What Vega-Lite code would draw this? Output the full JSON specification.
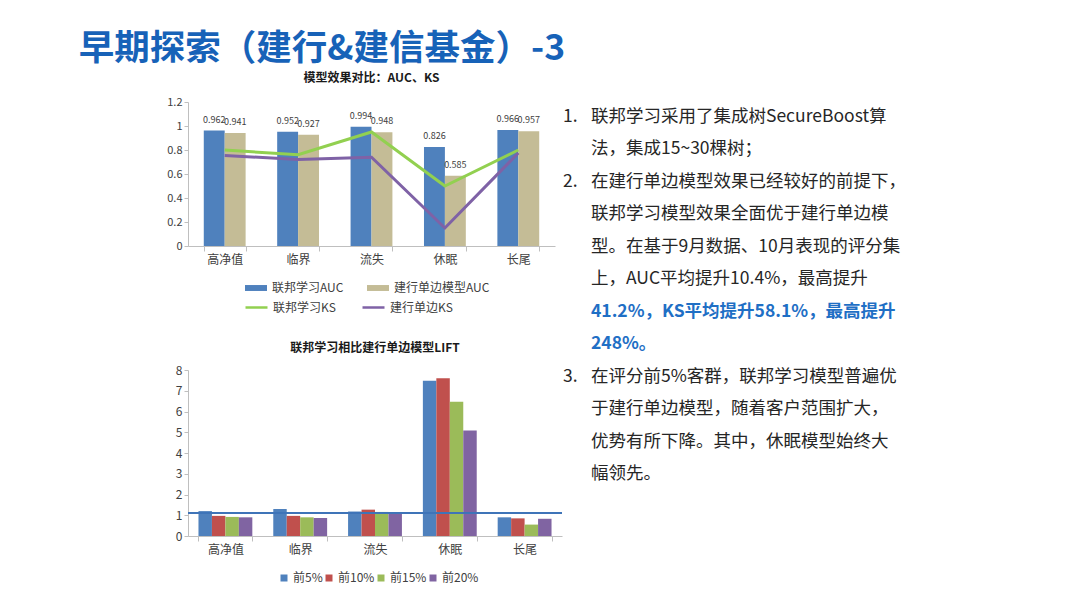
{
  "$schema": "https://vega.github.io/schema/vega-lite/v6.json",
  "background": "white",
  "padding": {"left": 78, "top": 31, "right": 0, "bottom": 0},
  "config": {
    "view": {"stroke": null},
    "font": "Noto Sans CJK SC",
    "axis": {"grid": false, "domainColor": "#bfbfbf", "tickColor": "#bfbfbf", "labelColor": "#404040", "labelFont": "Noto Sans CJK SC", "title": null, "labelOverlap": false},
    "legend": {"labelFont": "Noto Sans CJK SC", "labelColor": "#404040", "title": null}
  },
  "title": {"text": "早期探索（建行&建信基金）-3", "anchor": "start", "dx": -88, "fontSize": 35.5, "fontWeight": "bold", "color": "#1762b8", "font": "Noto Sans CJK SC", "offset": 5},
  "spacing": 0,
  "hconcat": [
    {
      "spacing": 48,
      "resolve": {"scale": {"color": "independent", "xOffset": "independent"}, "legend": {"color": "independent"}},
      "vconcat": [
        {
          "width": 367,
          "height": 144,
          "title": {"text": "模型效果对比：AUC、KS", "fontSize": 12, "fontWeight": "bold", "color": "#1a1a1a", "offset": 11, "font": "Noto Sans CJK SC"},
          "data": {"values": [
            {"cat": "高净值", "metric": "AUC", "series": "联邦学习AUC", "v": 0.962},
            {"cat": "临界", "metric": "AUC", "series": "联邦学习AUC", "v": 0.952},
            {"cat": "流失", "metric": "AUC", "series": "联邦学习AUC", "v": 0.994},
            {"cat": "休眠", "metric": "AUC", "series": "联邦学习AUC", "v": 0.826},
            {"cat": "长尾", "metric": "AUC", "series": "联邦学习AUC", "v": 0.966},
            {"cat": "高净值", "metric": "AUC", "series": "建行单边模型AUC", "v": 0.941},
            {"cat": "临界", "metric": "AUC", "series": "建行单边模型AUC", "v": 0.927},
            {"cat": "流失", "metric": "AUC", "series": "建行单边模型AUC", "v": 0.948},
            {"cat": "休眠", "metric": "AUC", "series": "建行单边模型AUC", "v": 0.585},
            {"cat": "长尾", "metric": "AUC", "series": "建行单边模型AUC", "v": 0.957},
            {"cat": "高净值", "metric": "KS", "series": "联邦学习KS", "v": 0.80},
            {"cat": "临界", "metric": "KS", "series": "联邦学习KS", "v": 0.76},
            {"cat": "流失", "metric": "KS", "series": "联邦学习KS", "v": 0.95},
            {"cat": "休眠", "metric": "KS", "series": "联邦学习KS", "v": 0.50},
            {"cat": "长尾", "metric": "KS", "series": "联邦学习KS", "v": 0.80},
            {"cat": "高净值", "metric": "KS", "series": "建行单边KS", "v": 0.755},
            {"cat": "临界", "metric": "KS", "series": "建行单边KS", "v": 0.72},
            {"cat": "流失", "metric": "KS", "series": "建行单边KS", "v": 0.74},
            {"cat": "休眠", "metric": "KS", "series": "建行单边KS", "v": 0.15},
            {"cat": "长尾", "metric": "KS", "series": "建行单边KS", "v": 0.775}
          ]},
          "encoding": {
            "x": {"field": "cat", "type": "nominal", "sort": ["高净值", "临界", "流失", "休眠", "长尾"], "scale": {"paddingInner": 0.43, "paddingOuter": 0.215}, "axis": {"labelAngle": 0, "tickBand": "extent", "tickSize": 5, "labelPadding": 3, "labelFontSize": 12}},
            "y": {"field": "v", "type": "quantitative", "scale": {"domain": [0, 1.2]}, "axis": {"values": [0, 0.2, 0.4, 0.6, 0.8, 1, 1.2], "format": ".1~f", "tickSize": 4, "labelPadding": 2, "labelFontSize": 11}}
          },
          "layer": [
            {
              "transform": [{"filter": "datum.metric == 'AUC'"}],
              "mark": {"type": "bar"},
              "encoding": {
                "xOffset": {"field": "series", "sort": ["联邦学习AUC", "建行单边模型AUC"]},
                "color": {"field": "series", "scale": {"domain": ["联邦学习AUC", "建行单边模型AUC"], "range": ["#4f81bd", "#c4bc96"]}, "legend": {"orient": "none", "legendX": 56, "legendY": 174, "direction": "horizontal", "columns": 2, "gridAlign": "none", "symbolType": "M-1,-0.27H1V0.27H-1Z", "symbolSize": 484, "labelFontSize": 12, "columnPadding": 22, "labelOffset": 4}}
              }
            },
            {
              "transform": [{"filter": "datum.metric == 'AUC'"}],
              "mark": {"type": "text", "baseline": "bottom", "dy": -6, "fontSize": 9, "color": "#404040"},
              "encoding": {
                "xOffset": {"field": "series", "sort": ["联邦学习AUC", "建行单边模型AUC"]},
                "text": {"field": "v", "type": "quantitative", "format": ".3f"}
              }
            },
            {
              "transform": [{"filter": "datum.metric == 'KS'"}],
              "mark": {"type": "line", "strokeWidth": 3},
              "encoding": {
                "stroke": {"field": "series", "scale": {"domain": ["联邦学习KS", "建行单边KS"], "range": ["#92d050", "#7f62a6"]}, "legend": {"orient": "none", "legendX": 56, "legendY": 193, "direction": "horizontal", "columns": 2, "gridAlign": "none", "symbolType": "stroke", "symbolSize": 484, "symbolStrokeWidth": 2.5, "labelFontSize": 12, "columnPadding": 21, "labelOffset": 4}}
              }
            }
          ]
        },
        {
          "width": 374,
          "height": 166,
          "title": {"text": "联邦学习相比建行单边模型LIFT", "fontSize": 12, "fontWeight": "bold", "color": "#1a1a1a", "offset": 9, "font": "Noto Sans CJK SC"},
          "data": {"values": [
            {"cat": "高净值", "series": "前5%", "v": 1.2},
            {"cat": "高净值", "series": "前10%", "v": 0.97},
            {"cat": "高净值", "series": "前15%", "v": 0.92},
            {"cat": "高净值", "series": "前20%", "v": 0.9},
            {"cat": "临界", "series": "前5%", "v": 1.3},
            {"cat": "临界", "series": "前10%", "v": 0.97},
            {"cat": "临界", "series": "前15%", "v": 0.9},
            {"cat": "临界", "series": "前20%", "v": 0.87},
            {"cat": "流失", "series": "前5%", "v": 1.18},
            {"cat": "流失", "series": "前10%", "v": 1.27},
            {"cat": "流失", "series": "前15%", "v": 1.16},
            {"cat": "流失", "series": "前20%", "v": 1.1},
            {"cat": "休眠", "series": "前5%", "v": 7.48},
            {"cat": "休眠", "series": "前10%", "v": 7.6},
            {"cat": "休眠", "series": "前15%", "v": 6.47},
            {"cat": "休眠", "series": "前20%", "v": 5.08},
            {"cat": "长尾", "series": "前5%", "v": 0.9},
            {"cat": "长尾", "series": "前10%", "v": 0.85},
            {"cat": "长尾", "series": "前15%", "v": 0.55},
            {"cat": "长尾", "series": "前20%", "v": 0.83}
          ]},
          "layer": [
            {
              "mark": {"type": "bar"},
              "encoding": {
                "x": {"field": "cat", "type": "nominal", "sort": ["高净值", "临界", "流失", "休眠", "长尾"], "scale": {"paddingInner": 0.28, "paddingOuter": 0.14}, "axis": {"labelAngle": 0, "tickBand": "extent", "tickSize": 5, "labelPadding": 3, "labelFontSize": 12}},
                "xOffset": {"field": "series", "sort": ["前5%", "前10%", "前15%", "前20%"]},
                "y": {"field": "v", "type": "quantitative", "scale": {"domain": [0, 8]}, "axis": {"values": [0, 1, 2, 3, 4, 5, 6, 7, 8], "tickSize": 4, "labelPadding": 2, "labelFontSize": 12}},
                "color": {"field": "series", "scale": {"domain": ["前5%", "前10%", "前15%", "前20%"], "range": ["#4f81bd", "#c0504d", "#9bbb59", "#8064a2"]}, "legend": {"orient": "none", "legendX": 90, "legendY": 202, "direction": "horizontal", "columns": 4, "gridAlign": "none", "symbolType": "square", "symbolSize": 49, "labelFontSize": 12, "columnPadding": 0, "labelOffset": 3}}
              }
            },
            {
              "mark": {"type": "rule", "color": "#3f74b8", "strokeWidth": 1.5},
              "encoding": {"y": {"datum": 1.1, "type": "quantitative", "axis": {"values": [0, 1, 2, 3, 4, 5, 6, 7, 8], "tickSize": 4, "labelPadding": 2, "labelFontSize": 12}}}
            }
          ]
        }
      ]
    },
    {
      "width": 420,
      "height": 372,
      "data": {"values": [
        {"line": 1, "part": "num", "kind": "n", "text": "1."},
        {"line": 1, "part": "body", "kind": "n", "text": "联邦学习采用了集成树SecureBoost算"},
        {"line": 2, "part": "body", "kind": "n", "text": "法，集成15~30棵树；"},
        {"line": 3, "part": "num", "kind": "n", "text": "2."},
        {"line": 3, "part": "body", "kind": "n", "text": "在建行单边模型效果已经较好的前提下，"},
        {"line": 4, "part": "body", "kind": "n", "text": "联邦学习模型效果全面优于建行单边模"},
        {"line": 5, "part": "body", "kind": "n", "text": "型。在基于9月数据、10月表现的评分集"},
        {"line": 6, "part": "body", "kind": "n", "text": "上，AUC平均提升10.4%，最高提升"},
        {"line": 7, "part": "body", "kind": "h", "text": "41.2%，KS平均提升58.1%，最高提升"},
        {"line": 8, "part": "body", "kind": "h", "text": "248%。"},
        {"line": 9, "part": "num", "kind": "n", "text": "3."},
        {"line": 9, "part": "body", "kind": "n", "text": "在评分前5%客群，联邦学习模型普遍优"},
        {"line": 10, "part": "body", "kind": "n", "text": "于建行单边模型，随着客户范围扩大，"},
        {"line": 11, "part": "body", "kind": "n", "text": "优势有所下降。其中，休眠模型始终大"},
        {"line": 12, "part": "body", "kind": "n", "text": "幅领先。"}
      ]},
      "encoding": {
        "x": {"field": "part", "type": "nominal", "scale": {"type": "point", "domain": ["num", "body"], "range": [0, 28], "padding": 0}, "axis": null},
        "y": {"field": "line", "type": "quantitative", "scale": {"domain": [0.537, 12], "reverse": true, "nice": false, "zero": false}, "axis": null},
        "text": {"field": "text"}
      },
      "layer": [
        {
          "transform": [{"filter": "datum.kind == 'n'"}],
          "mark": {"type": "text", "align": "left", "baseline": "middle", "fontSize": 17.5, "color": "#262626", "font": "Noto Sans CJK SC"}
        },
        {
          "transform": [{"filter": "datum.kind == 'h'"}],
          "mark": {"type": "text", "align": "left", "baseline": "middle", "fontSize": 17.5, "color": "#1f6fc5", "fontWeight": "bold", "font": "Noto Sans CJK SC"}
        }
      ]
    }
  ]
}
